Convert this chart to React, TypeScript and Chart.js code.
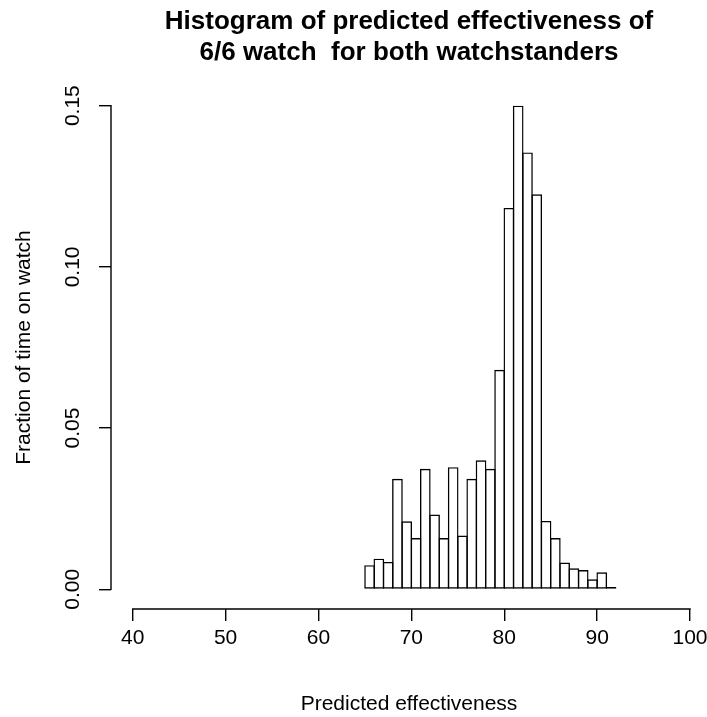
import React, { useEffect, useRef } from "react";
import { Chart, registerables } from "chart.js";

Chart.register(...registerables);

const TITLE_LINES = ["Histogram of predicted effectiveness of", "6/6 watch  for both watchstanders"];
const X_TITLE = "Predicted effectiveness";
const Y_TITLE = "Fraction of time on watch";

// histogram bins (left edges) and their heights
const BIN_LEFT = [65, 66, 67, 68, 69, 70, 71, 72, 73, 74, 75, 76, 77, 78, 79, 80, 81, 82, 83, 84, 85, 86, 87, 88, 89, 90, 91];
const BIN_WIDTH = 1;
const FRACTION = [
  0.0075, 0.0095, 0.0085, 0.0343, 0.0211, 0.0159, 0.0374, 0.0232, 0.0159, 0.0379,
  0.0167, 0.0343, 0.04, 0.0374, 0.0681, 0.1183, 0.15, 0.1355, 0.1225, 0.0212,
  0.0159, 0.0083, 0.0065, 0.006, 0.0031, 0.0053, 0.0007,
];

const X_TICKS = [40, 50, 60, 70, 80, 90, 100];
const Y_TICKS = [0, 0.05, 0.1, 0.15];
const Y_TICK_LABELS = ["0.00", "0.05", "0.10", "0.15"];
const X_MIN = 37.66;
const X_MAX = 101.83;
const Y_MIN = -0.0061;
const Y_MAX = 0.1561;

const FONT = "'Liberation Sans', Arial, Helvetica, sans-serif";
const LINE_W = 1.4;

const axisLines = {
  id: "axisLines",
  afterDraw(chart: any) {
    const { ctx, chartArea, scales } = chart;
    const x = scales.x;
    const y = scales.y;
    ctx.save();
    ctx.strokeStyle = "#000";
    ctx.lineWidth = LINE_W;
    ctx.lineCap = "square";
    ctx.beginPath();
    ctx.moveTo(x.getPixelForValue(X_TICKS[0]), chartArea.bottom);
    ctx.lineTo(x.getPixelForValue(X_TICKS[X_TICKS.length - 1]), chartArea.bottom);
    ctx.moveTo(chartArea.left, y.getPixelForValue(Y_TICKS[0]));
    ctx.lineTo(chartArea.left, y.getPixelForValue(Y_TICKS[Y_TICKS.length - 1]));
    ctx.stroke();
    ctx.restore();
  },
};

const noPad = (s: any) => {
  s.paddingLeft = 0;
  s.paddingRight = 0;
  s.paddingTop = 0;
  s.paddingBottom = 0;
};

export default function App() {
  const ref = useRef<HTMLCanvasElement>(null);

  useEffect(() => {
    document.body.style.margin = "0";
    const canvas = ref.current;
    if (!canvas) return;
    const barPct = 1 + 1.4 / 9.288;
    const chart = new Chart(canvas, {
      type: "bar",
      data: {
        datasets: [
          {
            data: BIN_LEFT.map((l, i) => ({ x: l + BIN_WIDTH / 2, y: FRACTION[i] })),
            backgroundColor: "rgba(255,255,255,0)",
            borderColor: "#000",
            borderWidth: LINE_W,
            borderSkipped: false,
            barPercentage: barPct,
            categoryPercentage: 1,
          },
        ],
      },
      plugins: [axisLines],
      options: {
        responsive: false,
        animation: false,
        events: [],
        layout: { padding: 0 },
        plugins: {
          legend: { display: false },
          tooltip: { enabled: false },
          title: {
            display: true,
            text: TITLE_LINES,
            color: "#000",
            fullSize: false,
            font: { family: FONT, size: 26, weight: "bold", lineHeight: 1.2 },
            padding: { top: 6, bottom: 17.6 },
          },
        },
        scales: {
          x: {
            type: "linear",
            min: X_MIN,
            max: X_MAX,
            offset: false,
            afterFit: (s: any) => {
              s.height = 108;
              noPad(s);
            },
            afterBuildTicks: (s: any) => {
              s.ticks = X_TICKS.map((v) => ({ value: v }));
            },
            grid: {
              display: true,
              offset: false,
              drawOnChartArea: false,
              drawTicks: true,
              tickLength: 12,
              color: "#000",
              lineWidth: LINE_W,
            },
            border: { display: false },
            ticks: {
              autoSkip: false,
              maxRotation: 0,
              minRotation: 0,
              padding: 5,
              color: "#000",
              font: { family: FONT, size: 21 },
              callback: (v: any) => String(v),
            },
            title: {
              display: true,
              text: X_TITLE,
              color: "#000",
              font: { family: FONT, size: 21 },
              padding: { top: 0, bottom: 0 },
            },
          },
          y: {
            type: "linear",
            min: Y_MIN,
            max: Y_MAX,
            afterFit: (s: any) => {
              s.width = 111;
              noPad(s);
            },
            afterBuildTicks: (s: any) => {
              s.ticks = Y_TICKS.map((v) => ({ value: v }));
            },
            grid: {
              display: true,
              drawOnChartArea: false,
              drawTicks: true,
              tickLength: 12,
              color: "#000",
              lineWidth: LINE_W,
            },
            border: { display: false },
            ticks: {
              autoSkip: false,
              minRotation: 90,
              maxRotation: 90,
              crossAlign: "center",
              padding: 5.5,
              color: "#000",
              font: { family: FONT, size: 21 },
              callback: (v: any) => {
                const i = Y_TICKS.indexOf(v);
                return i >= 0 ? Y_TICK_LABELS[i] : "";
              },
            },
            title: {
              display: true,
              text: Y_TITLE,
              color: "#000",
              font: { family: FONT, size: 21 },
              padding: { top: 11.4, bottom: 0 },
            },
          },
        },
      },
    } as any);
    return () => chart.destroy();
  }, []);

  return (
    <div style={{ width: 707, height: 717, background: "#fff" }}>
      <canvas ref={ref} width={707} height={717} style={{ display: "block" }} />
    </div>
  );
}
